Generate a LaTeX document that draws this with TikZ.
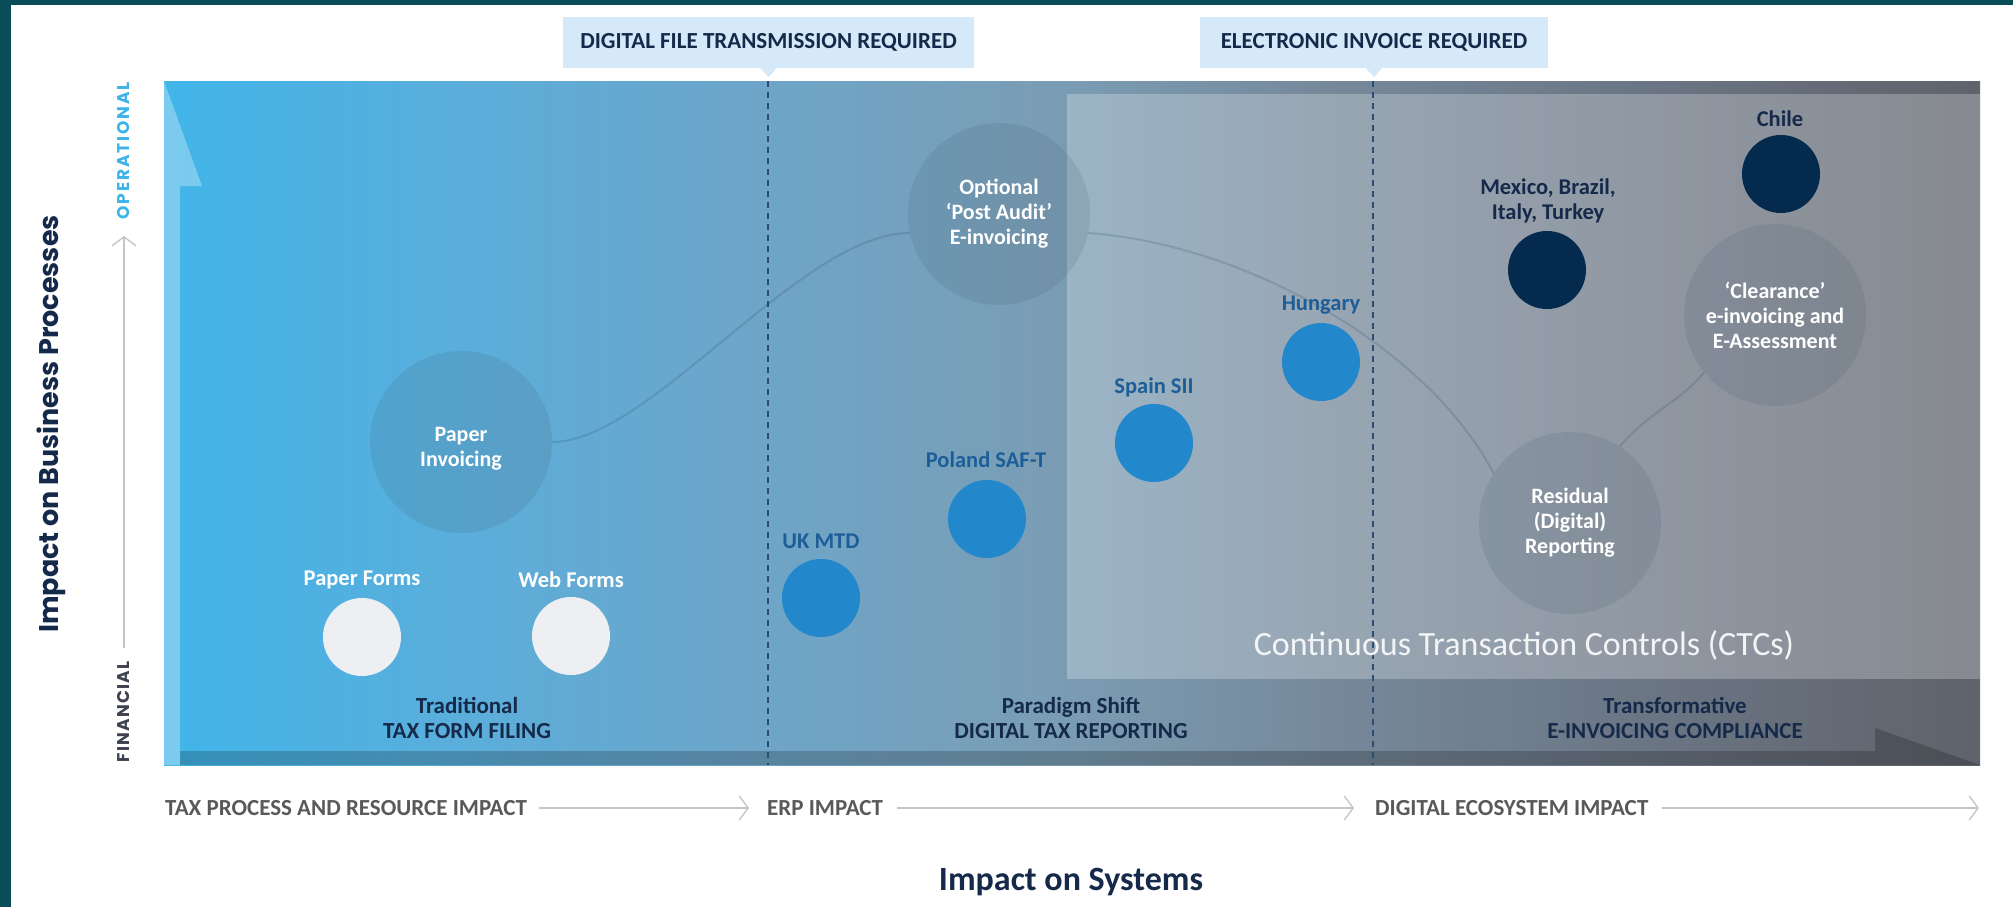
\documentclass[tikz,border=0pt]{standalone}
\usepackage{fontspec}
\setmainfont{Carlito}
\newfontfamily\geo{Poppins}
\usetikzlibrary{arrows.meta}
\definecolor{frameteal}{HTML}{0A4C58}
\definecolor{bgA}{HTML}{41B5E9}
\definecolor{bgB}{HTML}{5AAEDB}
\definecolor{bgC}{HTML}{6EA5C8}
\definecolor{bgD}{HTML}{7A9DB4}
\definecolor{bgE}{HTML}{76899B}
\definecolor{bgF}{HTML}{6A7482}
\definecolor{bgG}{HTML}{5F636B}
\definecolor{circslate}{HTML}{3C5468}
\definecolor{dotwhite}{HTML}{EEEFF3}
\definecolor{dotblue}{HTML}{2387CB}
\definecolor{dotnavy}{HTML}{042B4D}
\definecolor{boxblue}{HTML}{D6E9F8}
\definecolor{navytext}{HTML}{15294A}
\definecolor{bluetext}{HTML}{1D5E98}
\definecolor{axgray}{HTML}{595959}
\definecolor{axlinec}{HTML}{C4C4C4}
\definecolor{dashblue}{HTML}{2B4D74}
\definecolor{trailc}{HTML}{2E4A63}
\definecolor{opblue}{HTML}{3CB4E8}
\definecolor{fingray}{HTML}{3E4150}
\definecolor{ctcwhite}{HTML}{F2F4F6}
\pgfdeclarehorizontalshading{chartbg}{100bp}{color(0bp)=(bgA); color(25bp)=(bgA); color(33bp)=(bgB); color(41.5bp)=(bgC); color(49.5bp)=(bgD); color(57bp)=(bgE); color(66.5bp)=(bgF); color(75bp)=(bgG); color(100bp)=(bgG)}
\begin{document}
\begin{tikzpicture}[x=1pt,y=-1pt,
  lab/.style={inner sep=0pt, font=\bfseries\fontsize{22.5}{25}\selectfont, align=center},
  phase/.style={inner sep=0pt, text=navytext, font=\bfseries\fontsize{23}{25}\selectfont, align=center},
  bigc/.style={circle, inner sep=0pt, minimum size=182pt, fill=circslate, fill opacity=0.14, text opacity=1, text=white, font=\bfseries\fontsize{22}{25}\selectfont, align=center},
  bigtext/.style={inner sep=0pt, text=white, font=\bfseries\fontsize{22}{25}\selectfont, align=center},
  dot/.style={circle, inner sep=0pt, minimum size=78pt},
  dotw/.style={dot, fill=dotwhite},
  dotb/.style={dot, fill=dotblue},
  dotn/.style={dot, fill=dotnavy},
  topbox/.style={rectangle, inner sep=0pt, fill=boxblue, text=navytext, font=\bfseries\fontsize{23}{25}\selectfont},
  axl/.style={inner sep=0pt, text=axgray, font=\bfseries\fontsize{23}{25}\selectfont},
  axarrow/.style={draw=axlinec, line width=1.3pt, -{Straight Barb[length=9pt, width=24pt, line width=1.3pt]}},
  divider/.style={draw=dashblue, line width=1.3pt, dash pattern=on 6pt off 5pt},
  trail/.style={draw=trailc, line width=2pt, draw opacity=0.2},
]
\useasboundingbox (0,0) rectangle (2013,907);
\fill[white] (0,0) rectangle (2013,907);
\fill[frameteal] (0,0) rectangle (2013,5);
\fill[frameteal] (0,0) rectangle (11,907);

% chart background
\shade[shading=chartbg] (164,81) rectangle (1980,765);
\fill[white, fill opacity=0.25] (1067,94) rectangle (1980,679);
\fill[white, fill opacity=0.3] (164,81) -- (202,186) -- (180,186) -- (180,765) -- (164,765) -- cycle;
\fill[black, fill opacity=0.2] (180,751) -- (1875,751) -- (1875,728) -- (1980,765) -- (180,765) -- cycle;

% dividers
\coordinate (d1t) at (768,81); \coordinate (d1b) at (768,765);
\coordinate (d2t) at (1373,81); \coordinate (d2b) at (1373,765);
\draw[divider] (d1t) -- (d1b);
\draw[divider] (d2t) -- (d2b);

% top boxes
\node[topbox, minimum width=411pt, minimum height=51pt] (b1) at (768.5,42.5) {DIGITAL FILE TRANSMISSION REQUIRED};
\fill[boxblue] ([xshift=-8pt]b1.south) -- ([yshift=-9pt]b1.south) -- ([xshift=8pt]b1.south) -- cycle;
\node[topbox, minimum width=348pt, minimum height=51pt] (b2) at (1374,42.5) {ELECTRONIC INVOICE REQUIRED};
\fill[boxblue] ([xshift=-8pt]b2.south) -- ([yshift=-9pt]b2.south) -- ([xshift=8pt]b2.south) -- cycle;

% big circles
\node[bigc] (pinv) at (461,442) {};
\node[bigtext] (pinvt) at ([yshift=-7pt]pinv.center) {Paper\\Invoicing};
\node[bigc] (opt) at (999,214) {Optional\\‘Post Audit’\\E-invoicing};
\node[bigc] (clr) at (1775,315) {‘Clearance’\\e-invoicing and\\E-Assessment};
\node[bigc] (res) at (1570,523) {Residual\\(Digital)\\Reporting};

% trail
\draw[trail] (pinv.east) .. controls +(98,0) and +(-109,0) .. (opt.192);
\draw[trail] (opt.348) .. controls +(162,12) and +(-64,-123) .. (res.147);
\draw[trail] (res.57) .. controls +(30,-35) and +(-25,30) .. (clr.219);

% small circles
\node[dotw] (pf) at (362,637) {};
\node[lab, text=white] (pfl) at (362,580) {Paper Forms};
\node[dotw] (wf) at (571,636) {};
\node[lab, text=white] (wfl) at (571,580) {Web Forms};
\node[dotb] (uk) at (821,598) {};
\node[lab, text=bluetext] (ukl) at (821,541) {UK MTD};
\node[dotb] (pl) at (987,519) {};
\node[lab, text=bluetext] (pll) at (986,460) {Poland SAF-T};
\node[dotb] (es) at (1154,443) {};
\node[lab, text=bluetext] (esl) at (1154,387) {Spain SII};
\node[dotb] (hu) at (1321,362) {};
\node[lab, text=bluetext] (hul) at (1321,305) {Hungary};
\node[dotn] (mx) at (1547,270) {};
\node[lab, text=navytext] (mxl) at (1548,201) {Mexico, Brazil,\\Italy, Turkey};
\node[dotn] (cl) at (1781,174) {};
\node[lab, text=navytext] (cll) at (1780,119) {Chile};

% phase labels
\node[phase] (ph1) at (467,718) {Traditional\\TAX FORM FILING};
\node[phase] (ph2) at (1071,718) {Paradigm Shift\\DIGITAL TAX REPORTING};
\node[phase] (ph3) at (1675,718) {Transformative\\E-INVOICING COMPLIANCE};

\node[inner sep=0pt, text=ctcwhite, font=\fontsize{34}{40}\selectfont] (ctc) at (1524,645) {Continuous Transaction Controls (CTCs)};

% x axis
\node[axl, anchor=west] (ax1) at (165,808) {TAX PROCESS AND RESOURCE IMPACT};
\node[axl, anchor=west] (ax2) at (767,808) {ERP IMPACT};
\node[axl, anchor=west] (ax3) at (1375,808) {DIGITAL ECOSYSTEM IMPACT};
\coordinate (axend) at (1979,808);
\draw[axarrow] ([xshift=12pt]ax1.east) -- ([xshift=-18pt]ax2.west);
\draw[axarrow] ([xshift=14pt]ax2.east) -- ([xshift=-21pt]ax3.west);
\draw[axarrow] ([xshift=13pt]ax3.east) -- (axend);
\node[inner sep=0pt, text=navytext, font=\bfseries\fontsize{34}{40}\selectfont] (xbig) at (1071,882) {Impact on Systems};

% y axis
\node[rotate=90, inner sep=0pt, text=opblue, font=\geo\bfseries\fontsize{17}{20}\selectfont\addfontfeatures{LetterSpace=11}] (op) at (124,151) {OPERATIONAL};
\node[rotate=90, inner sep=0pt, text=fingray, font=\geo\bfseries\fontsize{17}{20}\selectfont\addfontfeatures{LetterSpace=7}] (fin) at (124,712) {FINANCIAL};
\coordinate (vb) at (124,648); \coordinate (vt) at (124,236);
\draw[axarrow] (vb) -- (vt);
\node[rotate=90, inner sep=0pt, text=navytext, font=\geo\bfseries\fontsize{27}{32}\selectfont] (ybig) at (51,424) {Impact on Business Processes};
\end{tikzpicture}
\end{document}
